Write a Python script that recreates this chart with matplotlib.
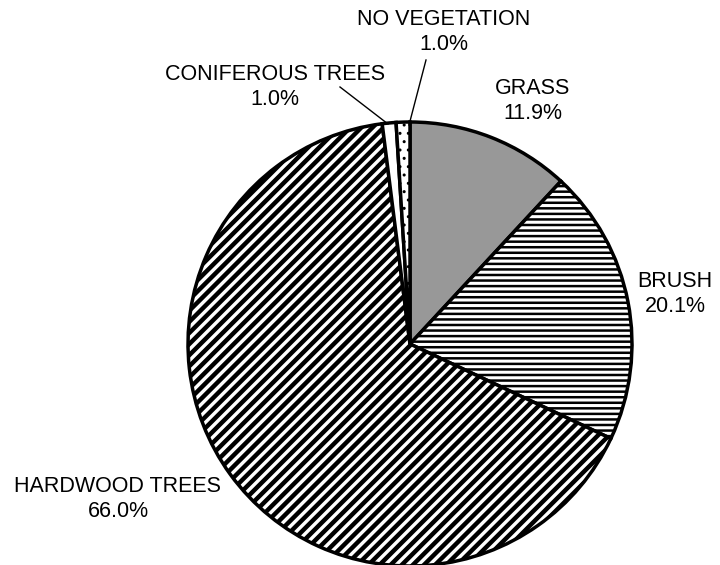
import numpy as np
import matplotlib.pyplot as plt

plt.rcParams['font.family'] = ['Liberation Sans', 'DejaVu Sans']
plt.rcParams['hatch.linewidth'] = 2.0

categories = ['GRASS', 'BRUSH', 'HARDWOOD TREES', 'CONIFEROUS TREES', 'NO VEGETATION']
shares = [11.9, 20.1, 66.0, 1.0, 1.0]
fills = ['#989898', 'white', 'white', 'white', 'white']
hatches = [None, '---', '///', None, '..']
hatch_widths = [1.0, 1.8, 3.2, 1.0, 1.0]

W, H = 720, 565
fig = plt.figure(figsize=(W / 100, H / 100), dpi=100)
ax = fig.add_axes([0, 0, 1, 1])

wedges, _ = ax.pie(shares, center=(410, H - 344), radius=222, startangle=90,
                   counterclock=False, colors=fills,
                   wedgeprops=dict(edgecolor='black', linewidth=2.5))
for w, h, hw in zip(wedges, hatches, hatch_widths):
    if h:
        w.set_hatch(h)
        if hasattr(w, 'set_hatch_linewidth'):
            w.set_hatch_linewidth(hw)
ax.set_xlim(0, W)
ax.set_ylim(0, H)
ax.set_aspect('equal')
ax.axis('off')

# label centres (pixel coords, y from top)
label_pos = {
    'GRASS': (533, 101),
    'BRUSH': (675, 294),
    'HARDWOOD TREES': (118, 499),
    'CONIFEROUS TREES': (275, 87),
    'NO VEGETATION': (444, 32),
}
for name, val in zip(categories, shares):
    x, y = label_pos[name]
    ax.text(x, H - y, f'{name}\n{val:.1f}%', ha='center', va='center',
            fontsize=15.5, linespacing=1.25)

# leader lines for the thin slices
ax.plot([340, 388], [H - 87, H - 124], color='black', lw=1, zorder=5)
ax.plot([426, 409], [H - 60, H - 125], color='black', lw=1, zorder=5)

fig.savefig('out.png', dpi=100)
